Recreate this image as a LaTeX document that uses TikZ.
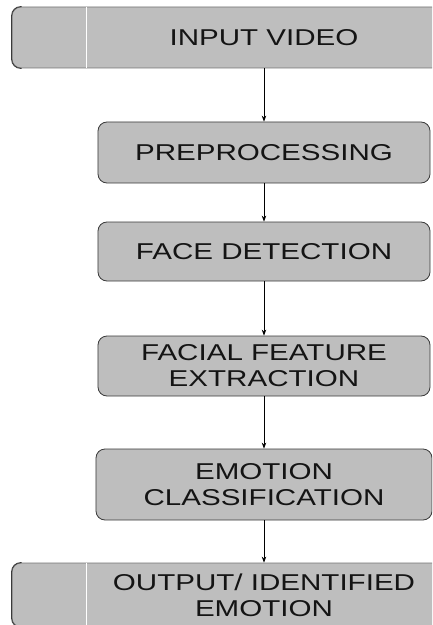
\documentclass[tikz,border=0pt]{standalone}
\usepackage{fontspec}
\usepackage{graphicx}
\setmainfont{Liberation Sans}
\usetikzlibrary{arrows.meta}
\definecolor{boxgray}{HTML}{BEBEBE}
\definecolor{edgegray}{HTML}{3A3A3A}
\newcommand{\sx}[1]{\scalebox{1.29}[1]{#1}}
\tikzset{
  box/.style={draw=edgegray, fill=boxgray, rounded corners=9bp,
    minimum width=332bp, minimum height=60bp, inner sep=0pt,
    line width=0.8bp, align=center, text=black!92,
    font=\fontsize{23}{26}\selectfont},
  endbox/.style={box, draw=black!55, minimum width=504bp},
  conn/.style={line width=0.8bp, draw=black,
    -{Stealth[length=6bp,width=4.5bp]}},
  divider/.style={draw=white, line width=1.3bp}
}
\begin{document}
\begin{tikzpicture}[x=1bp,y=-1bp]
\useasboundingbox (0,0) rectangle (432,625);
\clip (0,0) rectangle (432,625);
\node[endbox, minimum height=61bp] (in) at (264,37.5) {\sx{INPUT VIDEO}};
\draw[divider] ([xshift=75bp]in.north west) -- ([xshift=75bp]in.south west);
\draw[edgegray, line width=0.9bp, rounded corners=9bp]
  ([xshift=10bp]in.north west) -- (in.north west) -- (in.south west) -- ([xshift=10bp]in.south west);
\node[box, minimum height=61bp] (pre) at (264,152.5) {\sx{PREPROCESSING}};
\node[box, minimum height=59bp] (face) at (264,251.5) {\sx{FACE DETECTION}};
\node[box] (feat) at (264,366) {\sx{FACIAL FEATURE}\\\sx{EXTRACTION}};
\node[box, minimum width=336bp, minimum height=71bp] (emo) at (264,484.5) {\sx{EMOTION}\\\sx{CLASSIFICATION}};
\node[endbox, minimum height=64bp] (out) at (264,595) {\sx{OUTPUT/ IDENTIFIED}\\\sx{EMOTION}};
\draw[divider] ([xshift=75bp]out.north west) -- ([xshift=75bp]out.south west);
\draw[edgegray, line width=0.9bp, rounded corners=9bp]
  ([xshift=10bp]out.north west) -- (out.north west) -- (out.south west) -- ([xshift=10bp]out.south west);
\draw[conn] (in) -- (pre);
\draw[conn] (pre) -- (face);
\draw[conn] (face) -- (feat);
\draw[conn] (feat) -- (emo);
\draw[conn] (emo) -- (out);
\end{tikzpicture}
\end{document}
